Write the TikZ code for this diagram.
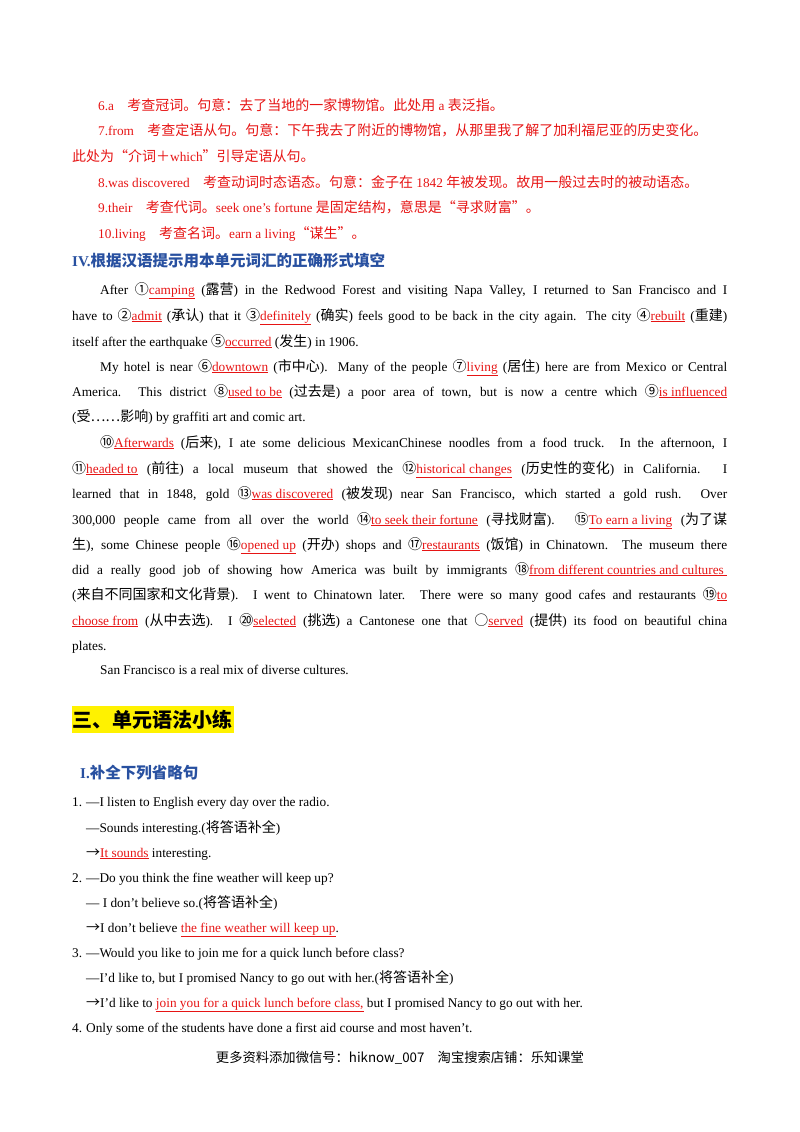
\documentclass[tikz,border=0pt]{standalone}
\usepackage{fontspec}
\setmainfont{Liberation Serif}
\newfontfamily\cjk{Noto Sans CJK SC}
\definecolor{ansred}{RGB}{230,20,20}
\definecolor{hblue}{RGB}{40,80,160}
\newcommand{\zh}[1]{{\cjk\fontsize{14}{16}\selectfont #1}}
\newcommand{\ans}[1]{{\color{ansred}\underline{#1}}}
\newcommand{\jline}[3]{\node[anchor=base west,inner sep=0] at (#1,-#2) {\makebox[\dimexpr727pt-#1pt\relax][s]{#3}};}
\newcommand{\lline}[3]{\node[anchor=base west,inner sep=0] at (#1,-#2) {#3};}
\begin{document}
\begin{tikzpicture}[x=1pt,y=1pt,font=\fontsize{13.3}{15}\selectfont]
\useasboundingbox (0,0) rectangle (800,-1132);
\begin{scope}[every node/.style={text=ansred}]
\lline{98}{110}{6.a\quad\zh{考查冠词。句意：去了当地的一家博物馆。此处用} a \zh{表泛指。}}
\lline{98}{135}{7.from\quad\zh{考查定语从句。句意：下午我去了附近的博物馆，从那里我了解了加利福尼亚的历史变化。}}
\lline{72}{161}{\zh{此处为“介词＋}which\zh{”引导定语从句。}}
\lline{98}{187}{8.was discovered\quad\zh{考查动词时态语态。句意：金子在} 1842 \zh{年被发现。故用一般过去时的被动语态。}}
\lline{98}{212}{9.their\quad\zh{考查代词。}seek one's fortune \zh{是固定结构，意思是“寻求财富”。}}
\lline{98}{238}{10.living\quad\zh{考查名词。}earn a living\zh{“谋生”。}}
\end{scope}
\node[anchor=base west,inner sep=0,text=hblue,font=\bfseries\fontsize{15}{17}\selectfont] at (72,-266) {IV.{\cjk\bfseries\fontsize{15.5}{17}\selectfont 根据汉语提示用本单元词汇的正确形式填空}};
\jline{100}{294}{After \zh{①}\ans{camping} (\zh{露营}) in the Redwood Forest and visiting Napa Valley, I returned to San Francisco and I}
\jline{72}{320}{have to \zh{②}\ans{admit} (\zh{承认}) that it \zh{③}\ans{definitely} (\zh{确实}) feels good to be back in the city again. The city \zh{④}\ans{rebuilt} (\zh{重建})}
\lline{72}{346}{itself after the earthquake \zh{⑤}\ans{occurred} (\zh{发生}) in 1906.}
\jline{100}{371}{My hotel is near \zh{⑥}\ans{downtown} (\zh{市中心}). Many of the people \zh{⑦}\ans{living} (\zh{居住}) here are from Mexico or Central}
\jline{72}{396}{America. This district \zh{⑧}\ans{used to be} (\zh{过去是}) a poor area of town, but is now a centre which \zh{⑨}\ans{is influenced}}
\lline{72}{421}{(\zh{受……影响}) by graffiti art and comic art.}
\jline{100}{447}{\zh{⑩}\ans{Afterwards} (\zh{后来}), I ate some delicious MexicanChinese noodles from a food truck. In the afternoon, I}
\jline{72}{473}{\zh{⑪}\ans{headed to} (\zh{前往}) a local museum that showed the \zh{⑫}\ans{historical changes} (\zh{历史性的变化}) in California. I}
\jline{72}{498}{learned that in 1848, gold \zh{⑬}\ans{was discovered} (\zh{被发现}) near San Francisco, which started a gold rush. Over}
\jline{72}{524}{300,000 people came from all over the world \zh{⑭}\ans{to seek their fortune} (\zh{寻找财富}). \zh{⑮}\ans{To earn a living} (\zh{为了谋}}
\jline{72}{549}{\zh{生}), some Chinese people \zh{⑯}\ans{opened up} (\zh{开办}) shops and \zh{⑰}\ans{restaurants} (\zh{饭馆}) in Chinatown. The museum there}
\jline{72}{574}{did a really good job of showing how America was built by immigrants \zh{⑱}\ans{from different countries and cultures\ }}
\jline{72}{599}{(\zh{来自不同国家和文化背景}). I went to Chinatown later. There were so many good cafes and restaurants \zh{⑲}\ans{to}}
\jline{72}{625}{\ans{choose from} (\zh{从中去选}). I \zh{⑳}\ans{selected} (\zh{挑选}) a Cantonese one that \zh{○}\ans{served} (\zh{提供}) its food on beautiful china}
\lline{72}{650}{plates.}
\lline{100}{674}{San Francisco is a real mix of diverse cultures.}
\fill[yellow] (72,-706) rectangle (234,-733);
\node[anchor=base west,inner sep=0] at (72,-727) {{\cjk\bfseries\fontsize{20}{22}\selectfont 三、单元语法小练}};
\node[anchor=base west,inner sep=0,text=hblue,font=\bfseries\fontsize{15}{17}\selectfont] at (80,-778) {I.{\cjk\bfseries\fontsize{15.5}{17}\selectfont 补全下列省略句}};
\lline{72}{806}{1.}
\lline{86}{806}{—I listen to English every day over the radio.}
\lline{86}{832}{—Sounds interesting.(\zh{将答语补全})}
\lline{86}{857}{\zh{→}\ans{It sounds} interesting.}
\lline{72}{882}{2.}
\lline{86}{882}{—Do you think the fine weather will keep up?}
\lline{86}{907}{— I don't believe so.(\zh{将答语补全})}
\lline{86}{932}{\zh{→}I don't believe \ans{the fine weather will keep up}.}
\lline{72}{957}{3.}
\lline{86}{957}{—Would you like to join me for a quick lunch before class?}
\lline{86}{982}{—I'd like to, but I promised Nancy to go out with her.(\zh{将答语补全})}
\lline{86}{1007}{\zh{→}I'd like to \ans{join you for a quick lunch before class,} but I promised Nancy to go out with her.}
\lline{72}{1032}{4.}
\lline{86}{1032}{Only some of the students have done a first aid course and most haven't.}
\node[anchor=base,inner sep=0] at (400,-1062) {{\cjk\fontsize{13.3}{15}\selectfont 更多资料添加微信号：hiknow\_007\quad 淘宝搜索店铺：乐知课堂}};
\end{tikzpicture}
\end{document}
